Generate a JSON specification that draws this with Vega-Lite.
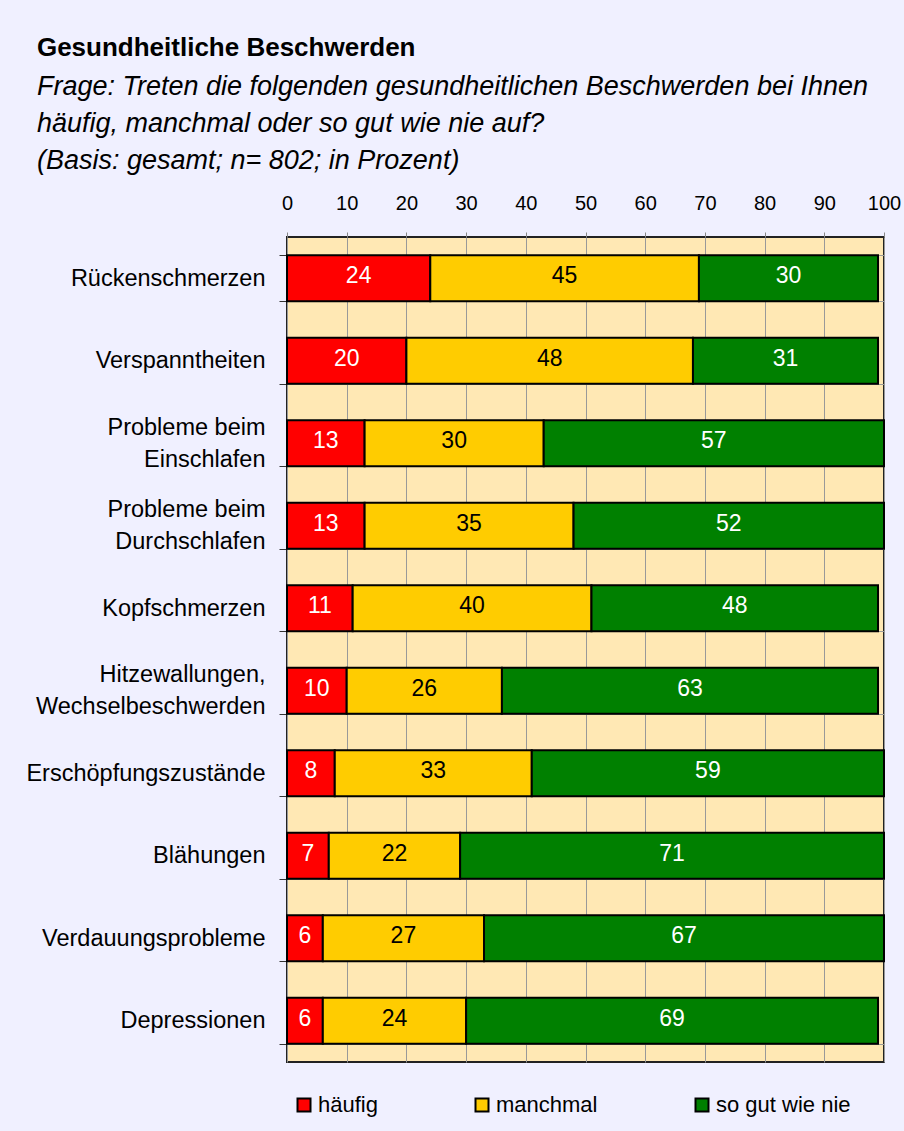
{
  "$schema": "https://vega.github.io/schema/vega-lite/v6.json",
  "width": 597,
  "height": 825,
  "autosize": {"type": "none"},
  "padding": {"left": 287, "top": 237, "right": 20, "bottom": 69},
  "background": "#F0F0FF",
  "title": {
    "text": "Gesundheitliche Beschwerden",
    "subtitle": [
      "Frage: Treten die folgenden gesundheitlichen Beschwerden bei Ihnen",
      "häufig, manchmal oder so gut wie nie auf?",
      "(Basis: gesamt; n= 802; in Prozent)"
    ],
    "anchor": "start",
    "frame": "bounds",
    "dx": 11,
    "font": "Liberation Sans",
    "fontSize": 26,
    "fontWeight": "bold",
    "color": "#000000",
    "subtitleFont": "Liberation Sans",
    "subtitleFontSize": 27,
    "subtitleFontStyle": "italic",
    "subtitleColor": "#000000",
    "subtitleLineHeight": 37,
    "subtitlePadding": 13,
    "offset": 19
  },
  "config": {
    "view": {"fill": "#FFE8B4", "stroke": "#222222", "strokeWidth": 2},
    "font": "Liberation Sans"
  },
  "data": {
    "values": [
      {"Beschwerde": "Rückenschmerzen", "Antwort": "häufig", "Prozent": 24},
      {"Beschwerde": "Rückenschmerzen", "Antwort": "manchmal", "Prozent": 45},
      {"Beschwerde": "Rückenschmerzen", "Antwort": "so gut wie nie", "Prozent": 30},
      {"Beschwerde": "Verspanntheiten", "Antwort": "häufig", "Prozent": 20},
      {"Beschwerde": "Verspanntheiten", "Antwort": "manchmal", "Prozent": 48},
      {"Beschwerde": "Verspanntheiten", "Antwort": "so gut wie nie", "Prozent": 31},
      {"Beschwerde": "Probleme beim Einschlafen", "Antwort": "häufig", "Prozent": 13},
      {"Beschwerde": "Probleme beim Einschlafen", "Antwort": "manchmal", "Prozent": 30},
      {"Beschwerde": "Probleme beim Einschlafen", "Antwort": "so gut wie nie", "Prozent": 57},
      {"Beschwerde": "Probleme beim Durchschlafen", "Antwort": "häufig", "Prozent": 13},
      {"Beschwerde": "Probleme beim Durchschlafen", "Antwort": "manchmal", "Prozent": 35},
      {"Beschwerde": "Probleme beim Durchschlafen", "Antwort": "so gut wie nie", "Prozent": 52},
      {"Beschwerde": "Kopfschmerzen", "Antwort": "häufig", "Prozent": 11},
      {"Beschwerde": "Kopfschmerzen", "Antwort": "manchmal", "Prozent": 40},
      {"Beschwerde": "Kopfschmerzen", "Antwort": "so gut wie nie", "Prozent": 48},
      {"Beschwerde": "Hitzewallungen, Wechselbeschwerden", "Antwort": "häufig", "Prozent": 10},
      {"Beschwerde": "Hitzewallungen, Wechselbeschwerden", "Antwort": "manchmal", "Prozent": 26},
      {"Beschwerde": "Hitzewallungen, Wechselbeschwerden", "Antwort": "so gut wie nie", "Prozent": 63},
      {"Beschwerde": "Erschöpfungszustände", "Antwort": "häufig", "Prozent": 8},
      {"Beschwerde": "Erschöpfungszustände", "Antwort": "manchmal", "Prozent": 33},
      {"Beschwerde": "Erschöpfungszustände", "Antwort": "so gut wie nie", "Prozent": 59},
      {"Beschwerde": "Blähungen", "Antwort": "häufig", "Prozent": 7},
      {"Beschwerde": "Blähungen", "Antwort": "manchmal", "Prozent": 22},
      {"Beschwerde": "Blähungen", "Antwort": "so gut wie nie", "Prozent": 71},
      {"Beschwerde": "Verdauungsprobleme", "Antwort": "häufig", "Prozent": 6},
      {"Beschwerde": "Verdauungsprobleme", "Antwort": "manchmal", "Prozent": 27},
      {"Beschwerde": "Verdauungsprobleme", "Antwort": "so gut wie nie", "Prozent": 67},
      {"Beschwerde": "Depressionen", "Antwort": "häufig", "Prozent": 6},
      {"Beschwerde": "Depressionen", "Antwort": "manchmal", "Prozent": 24},
      {"Beschwerde": "Depressionen", "Antwort": "so gut wie nie", "Prozent": 69}
    ]
  },
  "transform": [
    {"stack": "Prozent", "groupby": ["Beschwerde"], "sort": [{"field": "Antwort", "order": "ascending"}], "as": ["x0", "x1"]},
    {"calculate": "(datum.x0 + datum.x1) / 2", "as": "xmid"}
  ],
  "encoding": {
    "y": {
      "field": "Beschwerde",
      "type": "nominal",
      "sort": null,
      "scale": {"paddingInner": 0.44, "paddingOuter": 0.22},
      "axis": {
        "title": null,
        "domain": false,
        "ticks": true,
        "tickBand": "extent",
        "tickSize": 8,
        "tickColor": "#333333",
        "grid": true,
        "gridColor": "#999999",
        "gridWidth": 1,
        "labelFontSize": 23.5,
        "labelColor": "#000000",
        "labelPadding": 14,
        "labelOffset": {"condition": {"test": "datum.value == 'Probleme beim Einschlafen' || datum.value == 'Probleme beim Durchschlafen' || datum.value == 'Hitzewallungen, Wechselbeschwerden'", "value": -16}, "value": 0},
        "labelLineHeight": 32,
        "labelLimit": 400,
        "labelExpr": "datum.value == 'Probleme beim Einschlafen' ? ['Probleme beim', 'Einschlafen'] : datum.value == 'Probleme beim Durchschlafen' ? ['Probleme beim', 'Durchschlafen'] : datum.value == 'Hitzewallungen, Wechselbeschwerden' ? ['Hitzewallungen,', 'Wechselbeschwerden'] : datum.value"
      }
    }
  },
  "layer": [
    {
      "mark": {"type": "bar", "stroke": "#000000", "strokeWidth": 2},
      "encoding": {
        "x": {
          "field": "x0",
          "type": "quantitative",
          "scale": {"domain": [0, 100], "nice": false},
          "axis": {
            "orient": "top",
            "title": null,
            "domain": false,
            "values": [0, 10, 20, 30, 40, 50, 60, 70, 80, 90, 100],
            "grid": true,
            "gridColor": "#999999",
            "gridWidth": 1,
            "tickSize": 5,
            "tickColor": "#888888",
            "labelFontSize": 20,
            "labelColor": "#000000",
            "labelPadding": 19,
            "labelFlush": false
          }
        },
        "x2": {"field": "x1"},
        "color": {
          "field": "Antwort",
          "type": "nominal",
          "scale": {"domain": ["häufig", "manchmal", "so gut wie nie"], "range": ["#FF0000", "#FFCC00", "#008000"]},
          "legend": {
            "orient": "bottom",
            "direction": "horizontal",
            "title": null,
            "symbolType": "square",
            "symbolSize": 169,
            "symbolStrokeColor": "#000000",
            "symbolStrokeWidth": 2,
            "symbolOpacity": 1,
            "labelFontSize": 22,
            "labelColor": "#000000",
            "labelOffset": 3,
            "columnPadding": 93,
            "offset": 26,
            "padding": 6
          }
        }
      }
    },
    {
      "mark": {"type": "text", "fontSize": 23, "baseline": "middle", "align": "center", "dy": -2},
      "encoding": {
        "x": {"field": "xmid", "type": "quantitative"},
        "text": {"field": "Prozent", "type": "quantitative"},
        "fill": {
          "condition": {"test": "datum.Antwort == 'manchmal'", "value": "#000000"},
          "value": "#FFFFFF"
        }
      }
    }
  ]
}
